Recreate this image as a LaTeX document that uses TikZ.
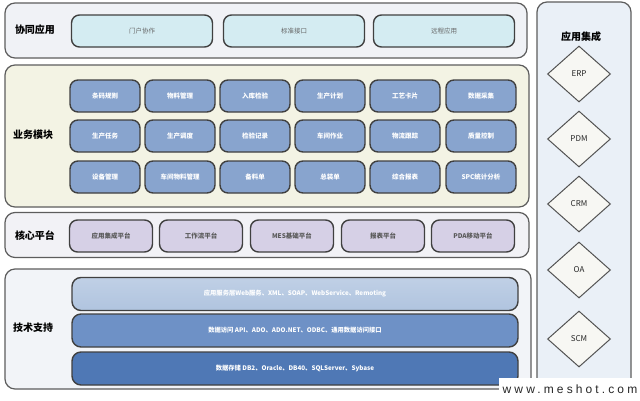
\documentclass[tikz,border=0pt]{standalone}
\usepackage{fontspec}
\setmainfont{Noto Sans CJK SC}
\newfontfamily\wmfont[LetterSpace=26]{Liberation Sans}
\usetikzlibrary{shapes.geometric}
\definecolor{pbgA}{HTML}{F0F2F6}
\definecolor{pbgB}{HTML}{F3F3E4}
\definecolor{pbgC}{HTML}{F2F2F6}
\definecolor{pbgD}{HTML}{F2F4F8}
\definecolor{pbgR}{HTML}{EAF0F7}
\definecolor{cyanfill}{HTML}{D4ECF2}
\definecolor{bluefill}{HTML}{88A4CE}
\definecolor{purfill}{HTML}{D6D0E6}
\definecolor{barA}{HTML}{B0C4DF}
\definecolor{barB}{HTML}{6E91C6}
\definecolor{barC}{HTML}{4F78B5}
\definecolor{edge}{HTML}{404040}
\definecolor{dfill}{HTML}{F7F7F3}
\tikzset{
  panel/.style={draw=edge!85, line width=1.2pt, rounded corners=10pt},
  plabel/.style={font=\fontsize{10}{11}\selectfont\bfseries, text=black},
  cbox/.style={draw=edge, line width=1.4pt, rounded corners=8pt, fill=cyanfill,
    minimum width=141pt, minimum height=32pt, inner sep=0pt,
    font=\fontsize{6.5}{7}\selectfont, text=black!60},
  bbox/.style={draw=edge, line width=1.4pt, rounded corners=8pt, fill=bluefill,
    minimum width=70pt, minimum height=32pt, inner sep=0pt,
    font=\fontsize{6.5}{7}\selectfont\bfseries, text=white},
  ubox/.style={draw=edge, line width=1.4pt, rounded corners=8pt, fill=purfill,
    minimum width=83pt, minimum height=32pt, inner sep=0pt,
    font=\fontsize{6.5}{7}\selectfont\bfseries, text=black!65},
  tbar/.style={draw=edge, line width=1.4pt, rounded corners=9pt,
    minimum width=446pt, minimum height=33pt, inner sep=0pt,
    font=\fontsize{6.3}{7}\selectfont\bfseries, text=white},
  dia/.style={diamond, draw=edge!90, line width=1pt, fill=dfill,
    minimum width=63pt, minimum height=56pt, inner sep=0pt,
    font=\fontsize{8}{9}\selectfont, text=black!85}
}
\begin{document}
\begin{tikzpicture}[x=1pt,y=-1pt]
\useasboundingbox (0,0) rectangle (640,400);
\fill[white] (0,0) rectangle (640,400);
% panels
\node[panel, fill=pbgA, minimum width=522pt, minimum height=55pt] (p1) at (266,30.5) {};
\node[panel, fill=pbgB, minimum width=524pt, minimum height=142pt] (p2) at (267,136) {};
\node[panel, fill=pbgC, minimum width=524pt, minimum height=45pt] (p3) at (267,235) {};
\node[panel, fill=pbgD, minimum width=526pt, minimum height=120pt] (p4) at (268,329) {};
\node[panel, fill=pbgR, minimum width=94pt, minimum height=390pt] (pr) at (584,197) {};
% labels
\node[plabel] (l1) at (35,30) {协同应用};
\node[plabel] (l2) at (33,135) {业务模块};
\node[plabel] (l3) at (35,236) {核心平台};
\node[plabel] (l4) at (33,328) {技术支持};
\node[plabel] (lr) at (581,37) {应用集成};
% row 1
\node[cbox] (c1) at (142,31) {门户协作};
\node[cbox] (c2) at (294,31) {标准接口};
\node[cbox] (c3) at (444,31) {远程应用};
% business modules
\node[bbox] (b11) at (105,96) {条码规则};
\node[bbox] (b12) at (180,96) {物料管理};
\node[bbox] (b13) at (255,96) {入库检验};
\node[bbox] (b14) at (330,96) {生产计划};
\node[bbox] (b15) at (405,96) {工艺卡片};
\node[bbox] (b16) at (481,96) {数据采集};
\node[bbox] (b21) at (105,136) {生产任务};
\node[bbox] (b22) at (180,136) {生产调度};
\node[bbox] (b23) at (255,136) {检验记录};
\node[bbox] (b24) at (330,136) {车间作业};
\node[bbox] (b25) at (405,136) {物流跟踪};
\node[bbox] (b26) at (481,136) {质量控制};
\node[bbox] (b31) at (105,177) {设备管理};
\node[bbox] (b32) at (180,177) {车间物料管理};
\node[bbox] (b33) at (255,177) {备料单};
\node[bbox] (b34) at (330,177) {总装单};
\node[bbox] (b35) at (405,177) {综合报表};
\node[bbox] (b36) at (481,177) {SPC统计分析};
% core platform
\node[ubox] (u1) at (111,236) {应用集成平台};
\node[ubox] (u2) at (201,236) {工作流平台};
\node[ubox] (u3) at (292,236) {MES基础平台};
\node[ubox] (u4) at (383,236) {报表平台};
\node[ubox] (u5) at (473,236) {PDA移动平台};
% tech support
\node[tbar, top color=barA!80!white, bottom color=barA] (t1) at (295,294) {应用服务层Web服务、XML、SOAP、WebService、Remoting};
\node[tbar, fill=barB] (t2) at (295,330.5) {数据访问 API、ADO、ADO.NET、ODBC、通用数据访问接口};
\node[tbar, fill=barC] (t3) at (295,368.5) {数据存储 DB2、Oracle、DB40、SQLServer、Sybase};
% integration diamonds
\node[dia] (d1) at (579,74) {ERP};
\node[dia] (d2) at (579,139) {PDM};
\node[dia] (d3) at (579,204) {CRM};
\node[dia] (d4) at (579,270) {OA};
\node[dia] (d5) at (579,339) {SCM};
% watermark
\node[fill=white, minimum width=142pt, minimum height=22pt, inner sep=0pt,
  font=\wmfont\fontsize{12}{13}\selectfont, text=black!85] (wm) at (570,389) {www.meshot.com};
\end{tikzpicture}
\end{document}
